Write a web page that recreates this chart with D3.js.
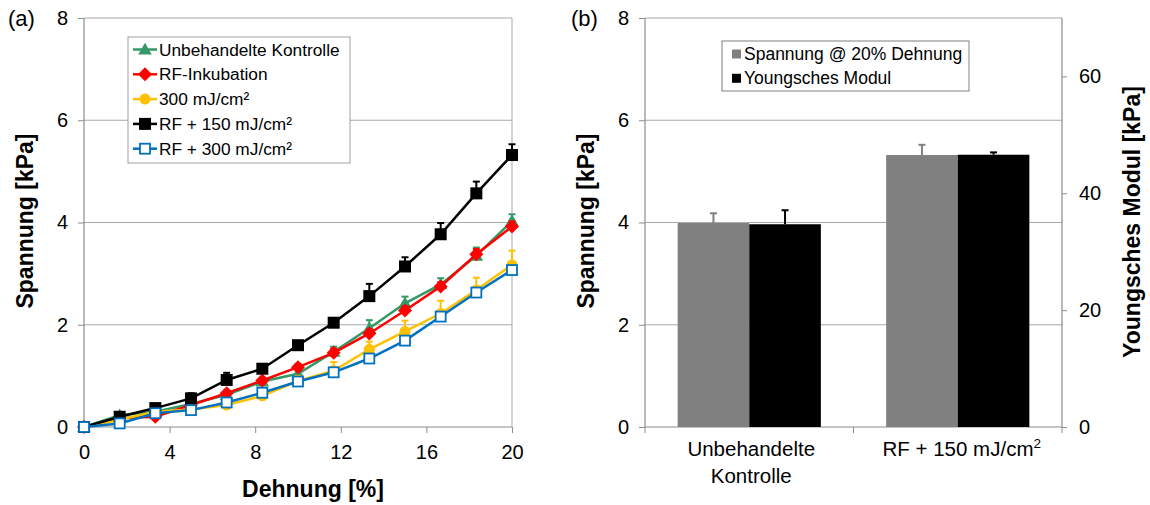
<!DOCTYPE html>
<html><head><meta charset="utf-8">
<script src="https://cdn.jsdelivr.net/npm/d3@7"></script>
<style>body{margin:0;background:#fff}svg{display:block;font-family:"Liberation Sans",Arial,sans-serif}</style>
</head><body><svg id="c" width="1150" height="505"></svg>
<script>
// ---- Data (a) ----
const dehnung = [0, 1.667, 3.333, 5, 6.667, 8.333, 10, 11.667, 13.333, 15, 16.667, 18.333, 20];
const seriesNames = ["Unbehandelte Kontrolle", "RF-Inkubation", "300 mJ/cm²", "RF + 150 mJ/cm²", "RF + 300 mJ/cm²"];
const kontrolle = [0, 0.23, 0.30, 0.45, 0.63, 0.89, 1.04, 1.47, 1.93, 2.42, 2.79, 3.35, 4.03];
const kontrolleErr = [0, 0.04, 0.05, 0.05, 0.06, 0.06, 0.07, 0.10, 0.16, 0.13, 0.12, 0.16, 0.13];
const rfInkubation = [0, 0.17, 0.20, 0.43, 0.66, 0.91, 1.17, 1.45, 1.83, 2.28, 2.75, 3.38, 3.92];
const rfInkubationErr = [0, 0.03, 0.04, 0.04, 0.05, 0.05, 0.06, 0.08, 0.08, 0.08, 0.08, 0.10, 0.10];
const mj300 = [0, 0.14, 0.30, 0.34, 0.43, 0.61, 0.90, 1.10, 1.52, 1.87, 2.22, 2.68, 3.17];
const mj300Err = [0, 0.05, 0.05, 0.06, 0.08, 0.10, 0.10, 0.17, 0.15, 0.21, 0.25, 0.24, 0.28];
const rf150 = [0, 0.20, 0.37, 0.56, 0.92, 1.14, 1.60, 2.04, 2.56, 3.14, 3.77, 4.57, 5.32];
const rf150Err = [0, 0.05, 0.05, 0.10, 0.14, 0.09, 0.07, 0.07, 0.24, 0.18, 0.22, 0.23, 0.21];
const rf300 = [0, 0.07, 0.27, 0.33, 0.48, 0.67, 0.89, 1.07, 1.34, 1.69, 2.16, 2.63, 3.07];
const rf300Err = [0, 0.03, 0.03, 0.03, 0.04, 0.04, 0.04, 0.05, 0.05, 0.05, 0.06, 0.06, 0.06];
const xTicksA = [0, 4, 8, 12, 16, 20];
const yTicksA = [0, 2, 4, 6, 8];

// ---- Data (b) ----
const categories = ["Unbehandelte Kontrolle", "RF + 150 mJ/cm2"];
const categoryLines = [["Unbehandelte", "Kontrolle"], ["RF + 150 mJ/cm", "2"]];
const barSeries = ["Spannung @ 20% Dehnung", "Youngsches Modul"];
const spannung20 = [3.99, 5.32];
const spannung20Err = [0.19, 0.20];
const youngModul = [34.7, 46.6];
const youngModulErr = [2.4, 0.4];
const yTicksB = [0, 2, 4, 6, 8];
const y2TicksB = [0, 20, 40, 60];

const svg = d3.select("#c");
const GRID = "#a9a9a9", AXIS = "#8c8c8c", FS = 20, LFS = 23;

// ================= Panel (a) =================
const xA = d3.scaleLinear().domain([0, 20]).range([84, 512]);
const yA = d3.scaleLinear().domain([0, 8]).range([427, 18]);
const gA = svg.append("g");
gA.selectAll(".gr").data(yTicksA.filter(d => d > 0)).join("line")
  .attr("x1", xA(0)).attr("x2", xA(20)).attr("y1", d => yA(d)).attr("y2", d => yA(d))
  .attr("stroke", GRID).attr("stroke-width", 1);
gA.append("line").attr("x1", xA(20)).attr("x2", xA(20)).attr("y1", yA(8)).attr("y2", yA(0)).attr("stroke", GRID);
const axLA = gA.append("g").attr("transform", `translate(${xA(0)},0)`)
  .call(d3.axisLeft(yA).tickValues(yTicksA).tickSize(6).tickPadding(10).tickFormat(d3.format("d")));
const axBA = gA.append("g").attr("transform", `translate(0,${yA(0)})`)
  .call(d3.axisBottom(xA).tickValues(xTicksA).tickSize(6).tickPadding(12).tickFormat(d3.format("d")));
[axLA, axBA].forEach(a => {
  a.select(".domain").attr("stroke", AXIS).attr("stroke-width", 1.2);
  a.selectAll(".tick line").attr("stroke", AXIS);
  a.selectAll("text").attr("font-size", FS).attr("fill", "#000");
});
axLA.select(".domain").attr("d", `M0,${yA(8)}V${yA(0)}`);
axBA.select(".domain").attr("d", `M${xA(0)},0H${xA(20)}`);

const series = [
  {name: seriesNames[0], v: kontrolle, e: kontrolleErr, color: "#339966", sym: "tri"},
  {name: seriesNames[1], v: rfInkubation, e: rfInkubationErr, color: "#ff0000", sym: "dia"},
  {name: seriesNames[2], v: mj300, e: mj300Err, color: "#ffc000", sym: "cir"},
  {name: seriesNames[3], v: rf150, e: rf150Err, color: "#000000", sym: "sq"},
  {name: seriesNames[4], v: rf300, e: rf300Err, color: "#0070c0", sym: "hsq"}
];
function marker(g, s, x, y) {
  if (s.sym === "tri") g.append("path").attr("d", d3.symbol(d3.symbolTriangle, 80)()).attr("transform", `translate(${x},${y+1})`).attr("fill", s.color);
  else if (s.sym === "dia") g.append("path").attr("d", `M${x},${y-7}L${x+7},${y}L${x},${y+7}L${x-7},${y}Z`).attr("fill", s.color);
  else if (s.sym === "cir") g.append("circle").attr("cx", x).attr("cy", y).attr("r", 5.5).attr("fill", s.color);
  else if (s.sym === "sq") g.append("rect").attr("x", x-6).attr("y", y-6).attr("width", 12).attr("height", 12).attr("fill", s.color);
  else g.append("rect").attr("x", x-5).attr("y", y-5).attr("width", 10).attr("height", 10).attr("fill", "#fff").attr("stroke", s.color).attr("stroke-width", 1.8);
}
const line = d3.line().x((d, i) => xA(dehnung[i])).y(d => yA(d));
series.forEach(s => {
  const g = gA.append("g");
  s.v.forEach((v, i) => {
    if (s.e[i] <= 0) return;
    const x = xA(dehnung[i]);
    g.append("line").attr("x1", x).attr("x2", x).attr("y1", yA(v)).attr("y2", yA(v + s.e[i])).attr("stroke", s.color).attr("stroke-width", 2);
    g.append("line").attr("x1", x-3.5).attr("x2", x+3.5).attr("y1", yA(v + s.e[i])).attr("y2", yA(v + s.e[i])).attr("stroke", s.color).attr("stroke-width", 2);
  });
  g.append("path").attr("d", line(s.v)).attr("fill", "none").attr("stroke", s.color).attr("stroke-width", 2.5);
  s.v.forEach((v, i) => marker(g, s, xA(dehnung[i]), yA(v)));
});
const lgA = gA.append("g");
lgA.append("rect").attr("x", 128).attr("y", 37).attr("width", 222).attr("height", 126).attr("fill", "#fff").attr("stroke", "#a0a0a0");
series.forEach((s, i) => {
  const y = 49.5 + i * 24.8;
  lgA.append("line").attr("x1", 133).attr("x2", 157).attr("y1", y).attr("y2", y).attr("stroke", s.color).attr("stroke-width", 2.5);
  marker(lgA, s, 145, y);
  lgA.append("text").attr("x", 159).attr("y", y + 6).attr("font-size", 17.3).text(s.name);
});
svg.append("text").attr("x", 8).attr("y", 26).attr("font-size", 22).text("(a)");
svg.append("text").attr("transform", "translate(33,221) rotate(-90)").attr("text-anchor", "middle")
  .attr("font-size", LFS).attr("font-weight", "bold").text("Spannung [kPa]");
svg.append("text").attr("x", 313).attr("y", 497).attr("text-anchor", "middle")
  .attr("font-size", LFS).attr("font-weight", "bold").text("Dehnung [%]");

// ================= Panel (b) =================
const xB = d3.scaleBand().domain(categories).range([645, 1062]).padding(0);
const xSub = d3.scaleBand().domain(barSeries).range([0, xB.bandwidth()]).paddingInner(0).paddingOuter(0.456);
const yB = d3.scaleLinear().domain([0, 8]).range([427, 18]);
const y2B = d3.scaleLinear().domain([0, 70]).range([427, 18]);
const gB = svg.append("g");
gB.selectAll(".gr").data(yTicksB.filter(d => d > 0)).join("line")
  .attr("x1", 645).attr("x2", 1062).attr("y1", d => yB(d)).attr("y2", d => yB(d)).attr("stroke", GRID);
const axLB = gB.append("g").attr("transform", "translate(645,0)")
  .call(d3.axisLeft(yB).tickValues(yTicksB).tickSize(6).tickPadding(10).tickFormat(d3.format("d")));
const axRB = gB.append("g").attr("transform", "translate(1062,0)")
  .call(d3.axisRight(y2B).tickValues(y2TicksB).tickSize(5).tickPadding(12).tickFormat(d3.format("d")));
const axBB = gB.append("g").attr("transform", "translate(0,427)")
  .call(d3.axisBottom(xB).tickSize(0).tickFormat(""));
[axLB, axRB, axBB].forEach(a => {
  a.select(".domain").attr("stroke", AXIS).attr("stroke-width", 1.2);
  a.selectAll(".tick line").attr("stroke", AXIS);
  a.selectAll("text").attr("font-size", FS).attr("fill", "#000");
});
axLB.select(".domain").attr("d", "M0,18V427");
axRB.select(".domain").attr("d", "M0,18V427");
axBB.select(".domain").attr("d", "M645,0H1062");
const sepX = [645, xB(categories[1]), 1062];
gB.selectAll(".sep").data(sepX).join("line").attr("x1", d => d).attr("x2", d => d).attr("y1", 427).attr("y2", 433).attr("stroke", AXIS);

categories.forEach((c, i) => {
  const x0 = xB(c);
  const bw = xSub.bandwidth();
  const xs = x0 + xSub(barSeries[0]);
  const xm = x0 + xSub(barSeries[1]);
  const cxS = xs + bw / 2, cxM = xm + bw / 2;
  gB.append("line").attr("x1", cxS).attr("x2", cxS).attr("y1", yB(spannung20[i])).attr("y2", yB(spannung20[i] + spannung20Err[i])).attr("stroke", "#808080").attr("stroke-width", 2);
  gB.append("line").attr("x1", cxS-3.5).attr("x2", cxS+3.5).attr("y1", yB(spannung20[i] + spannung20Err[i])).attr("y2", yB(spannung20[i] + spannung20Err[i])).attr("stroke", "#808080").attr("stroke-width", 2);
  gB.append("line").attr("x1", cxM).attr("x2", cxM).attr("y1", y2B(youngModul[i])).attr("y2", y2B(youngModul[i] + youngModulErr[i])).attr("stroke", "#000").attr("stroke-width", 2);
  gB.append("line").attr("x1", cxM-3.5).attr("x2", cxM+3.5).attr("y1", y2B(youngModul[i] + youngModulErr[i])).attr("y2", y2B(youngModul[i] + youngModulErr[i])).attr("stroke", "#000").attr("stroke-width", 2);
  gB.append("rect").attr("x", xs).attr("y", yB(spannung20[i])).attr("width", bw).attr("height", yB(0) - yB(spannung20[i])).attr("fill", "#808080");
  gB.append("rect").attr("x", xm).attr("y", y2B(youngModul[i])).attr("width", bw).attr("height", y2B(0) - y2B(youngModul[i])).attr("fill", "#000");
  const cx = x0 + xB.bandwidth() / 2;
  const lines = categoryLines[i];
  if (i === 0) {
    lines.forEach((l, k) => gB.append("text").attr("x", cx + 2).attr("y", 456 + k * 26.5).attr("text-anchor", "middle").attr("font-size", 20.5).text(l));
  } else {
    const t = gB.append("text").attr("x", cx + 4).attr("y", 456).attr("text-anchor", "middle").attr("font-size", 20.5);
    t.append("tspan").text(lines[0]);
    t.append("tspan").attr("font-size", 13.5).attr("dy", -8).text(lines[1]);
  }
});
const lgB = gB.append("g");
lgB.append("rect").attr("x", 722).attr("y", 41).attr("width", 247).attr("height", 50).attr("fill", "#fff").attr("stroke", "#808080");
[["#808080", barSeries[0]], ["#000", barSeries[1]]].forEach((d, k) => {
  const y = 54 + k * 24.3;
  lgB.append("rect").attr("x", 732).attr("y", y - 4.5).attr("width", 9).attr("height", 9).attr("fill", d[0]);
  lgB.append("text").attr("x", 744).attr("y", y + 6).attr("font-size", 17.5).text(d[1]);
});
svg.append("text").attr("x", 571).attr("y", 26).attr("font-size", 22).text("(b)");
svg.append("text").attr("transform", "translate(594,221) rotate(-90)").attr("text-anchor", "middle")
  .attr("font-size", LFS).attr("font-weight", "bold").text("Spannung [kPa]");
svg.append("text").attr("transform", "translate(1140,222) rotate(-90)").attr("text-anchor", "middle")
  .attr("font-size", LFS).attr("font-weight", "bold").text("Youngsches Modul [kPa]");
</script></body></html>
